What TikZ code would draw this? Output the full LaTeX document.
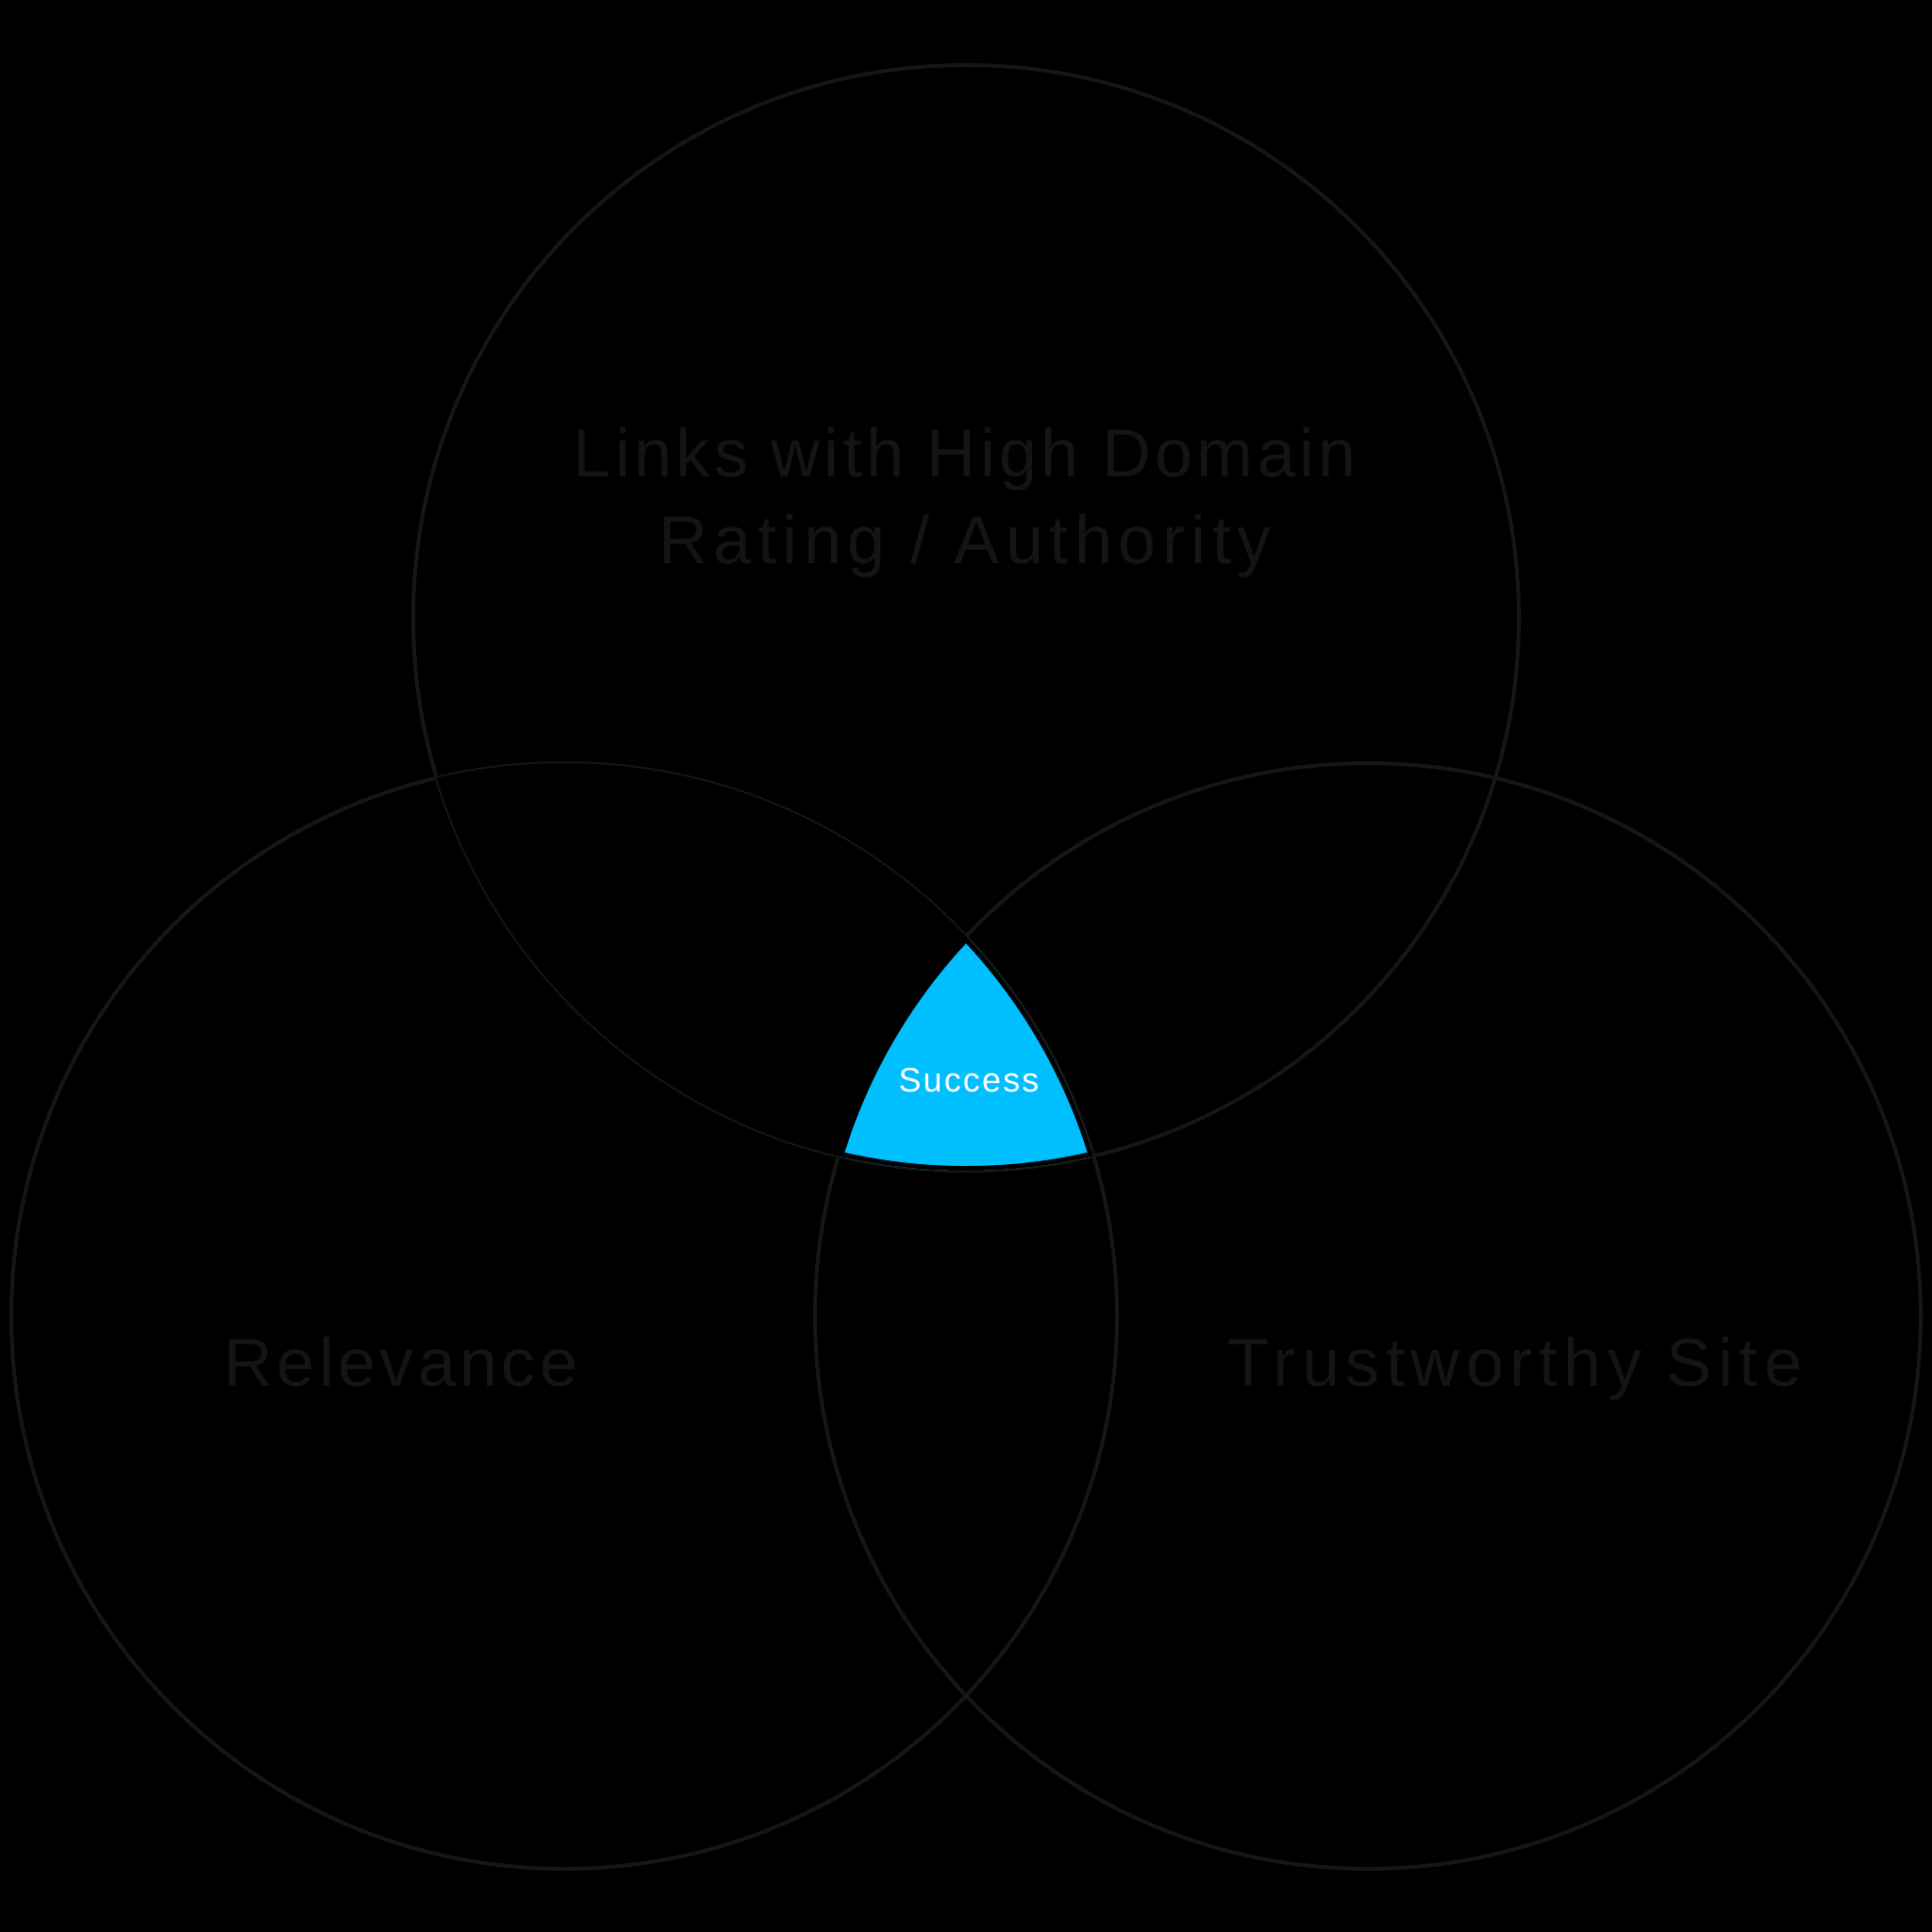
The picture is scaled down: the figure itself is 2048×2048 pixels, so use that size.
\documentclass[tikz,border=0pt]{standalone}
\usepackage{fontspec}
\setmainfont{Liberation Sans}[LetterSpace=6]
\definecolor{ringgray}{RGB}{22,22,22}
\definecolor{labelgray}{RGB}{20,20,20}
\definecolor{successcyan}{RGB}{0,191,255}
\tikzset{
  ring/.style={draw=ringgray, line width=2pt},
  biglabel/.style={text=labelgray, font=\fontsize{36}{46}\selectfont, anchor=base},
  widelabel/.style={biglabel, font=\fontsize{36}{46}\selectfont\addfontfeature{LetterSpace=9}},
  smalllabel/.style={text=white, font=\fontsize{18}{22}\selectfont, anchor=base}
}
\begin{document}
\begin{tikzpicture}[x=0.5pt, y=-0.5pt]
    \pgfmathsetmacro{\r}{586}
    \fill [black] (0, 0) rectangle (2048, 2048);
    \useasboundingbox (0, 0) rectangle (2048, 2048);
    \coordinate (top) at (1024, 655);
    \coordinate (left) at (598, 1395);
    \coordinate (right) at (1450, 1395);
    \draw [ring] (top) circle [radius=\r];
    \draw [ring] (left) circle [radius=\r];
    \draw [ring] (right) circle [radius=\r];
    \begin{scope}
        \clip (top) circle [radius=\r];
        \clip (left) circle [radius=\r];
        \fill [successcyan] (right) circle [radius=\r];
        \draw [black, line width=5pt] (top) circle [radius=\r];
        \draw [black, line width=5pt] (left) circle [radius=\r];
        \draw [black, line width=5pt] (right) circle [radius=\r];
    \end{scope}
    \node [biglabel] (links) at (1023, 505) {Links with High Domain};
    \node [widelabel] (rating) at (1023, 597) {Rating / Authority};
    \node [biglabel] (relevance) at (425, 1469) {Relevance};
    \node [widelabel] (trust) at (1606, 1469) {Trustworthy Site};
    \node [smalllabel] (success) at (1027, 1157) {Success};
\end{tikzpicture}
\end{document}
